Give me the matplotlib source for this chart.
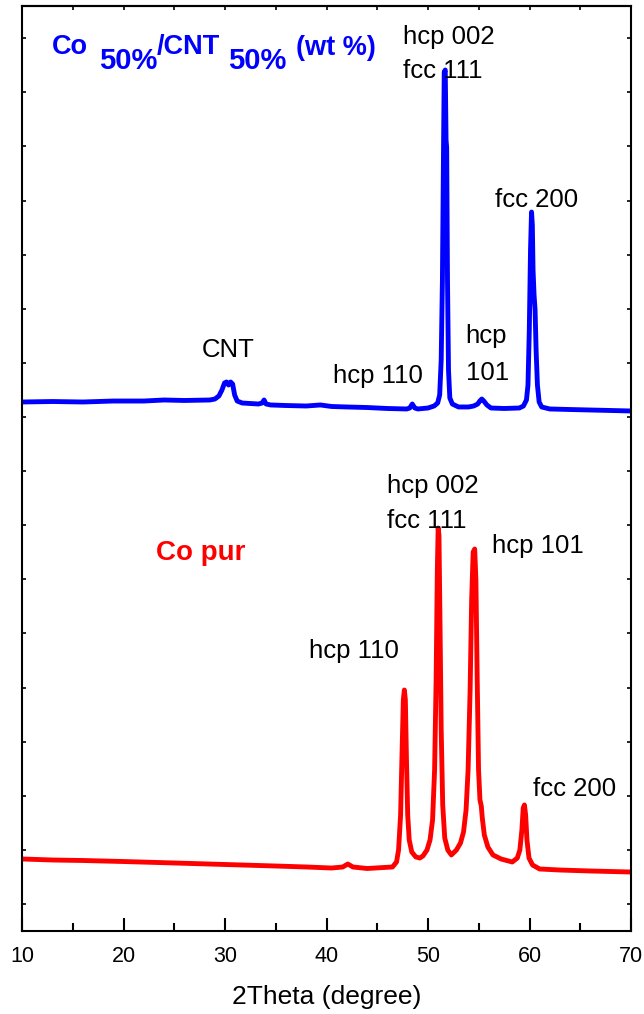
import matplotlib
matplotlib.use("Agg")
import matplotlib.pyplot as plt
from matplotlib.ticker import MultipleLocator, NullFormatter

# ---------------- data ----------------
two_theta_cnt = [10.0, 13.0, 16.0, 19.0, 22.0, 24.0, 26.0, 28.5, 29.0, 29.4, 29.7, 29.95,
                 30.15, 30.35, 30.55, 30.75, 30.95, 31.2, 31.7, 32.5, 33.3, 33.65, 33.85,
                 34.05, 34.5, 36.0, 38.0, 39.4, 40.5, 42.0, 44.0, 46.0, 47.9, 48.2, 48.45,
                 48.7, 49.0, 50.0, 50.6, 50.95, 51.15, 51.3, 51.42, 51.52, 51.6, 51.7,
                 51.78, 51.84, 51.92, 52.02, 52.15, 52.4, 53.0, 54.0, 54.5, 54.9, 55.1,
                 55.3, 55.5, 55.8, 56.2, 57.5, 59.0, 59.4, 59.7, 59.85, 59.98, 60.1, 60.2,
                 60.28, 60.35, 60.45, 60.55, 60.65, 60.78, 60.95, 61.2, 62.0, 64.0, 66.0,
                 68.0, 70.0]
intensity_cnt = [9277, 9286, 9277, 9295, 9295, 9314, 9305, 9314, 9332, 9388, 9499, 9628,
                 9647, 9591, 9647, 9610, 9406, 9295, 9258, 9249, 9240, 9258, 9314,
                 9240, 9222, 9212, 9203, 9222, 9194, 9185, 9175, 9157, 9148, 9166, 9240,
                 9166, 9148, 9166, 9203, 9258, 9406, 10053, 11532, 13749, 15375, 15412,
                 14119, 13971, 11532, 9868, 9351, 9240, 9185, 9185, 9203, 9240, 9295,
                 9332, 9295, 9222, 9166, 9157, 9166, 9203, 9314, 9591, 10608, 12086, 12788,
                 12548, 11716, 11254, 10977, 10238, 9591, 9277, 9185, 9148, 9138, 9129,
                 9120, 9111]

two_theta_pur = [10.0, 13.0, 16.0, 20.0, 25.0, 30.0, 35.0, 38.0, 40.5, 41.6, 42.1, 42.6,
                 44.0, 46.5, 46.9, 47.1, 47.3, 47.45, 47.57, 47.67, 47.77, 47.88, 48.0,
                 48.15, 48.4, 48.8, 49.2, 49.5, 49.9, 50.2, 50.45, 50.65, 50.8, 50.92,
                 51.0, 51.08, 51.18, 51.3, 51.45, 51.65, 51.95, 52.3, 52.8, 53.2, 53.5,
                 53.75, 53.95, 54.15, 54.3, 54.45, 54.6, 54.72, 54.85, 54.98, 55.12, 55.25,
                 55.35, 55.55, 55.9, 56.4, 57.2, 58.3, 58.8, 59.05, 59.25, 59.38, 59.5,
                 59.62, 59.75, 59.95, 60.3, 61.0, 63.0, 66.0, 70.0]
intensity_pur = [832, 813, 804, 785, 758, 730, 702, 684, 665, 684, 739, 684,
                 656, 684, 776, 998, 1645, 2846, 3770, 3955, 3770, 2661, 1645,
                 1183, 961, 869, 850, 887, 998, 1183, 1552, 2476, 4140, 6172,
                 6948, 6819, 5248, 3216, 1830, 1220, 998, 906, 998, 1127, 1331,
                 1737, 2476, 3955, 5618, 6505, 6560, 5988, 4140, 2476, 1922, 1811,
                 1589, 1275, 1053, 906, 832, 776, 850, 998, 1368, 1774, 1830,
                 1645, 1183, 850, 721, 647, 628, 610, 591]

x_ticks_major = [10, 20, 30, 40, 50, 60, 70]

# ---------------- figure ----------------
W, H = 644, 1014
fig = plt.figure(figsize=(W / 100, H / 100), dpi=100)
ax = fig.add_axes([22 / W, 83 / H, 609 / W, 925 / H])

ax.plot(two_theta_cnt, intensity_cnt, color="#0000ff", lw=3.5, solid_joinstyle="round")
ax.plot(two_theta_pur, intensity_pur, color="#ff0000", lw=3.5, solid_joinstyle="round")

ax.set_xlim(10, 70)
ax.set_ylim(-499, 16595)

FONT = "Liberation Sans"

ax.set_xticks(x_ticks_major)
ax.set_xticklabels([str(t) for t in x_ticks_major], fontfamily=FONT, fontsize=15.5)
ax.xaxis.set_minor_locator(MultipleLocator(5))
ax.yaxis.set_major_locator(MultipleLocator(1000))
ax.yaxis.set_major_formatter(NullFormatter())

ax.tick_params(axis="x", which="major", direction="in", length=9.5, width=1.5,
               bottom=True, top=False, pad=10.5)
ax.tick_params(axis="x", which="minor", direction="in", length=5.5, width=1.5,
               bottom=True, top=False)
ax.tick_params(axis="y", which="major", direction="in", length=3, width=1.2,
               left=True, right=True)

top = ax.secondary_xaxis("top")
top.xaxis.set_major_locator(MultipleLocator(5))
top.tick_params(direction="in", length=3, width=1.2, labeltop=False)
top.spines["top"].set_linewidth(1.5)

for sp in ax.spines.values():
    sp.set_linewidth(1.5)

ax.set_xlabel("2Theta (degree)", fontfamily=FONT, fontsize=19, labelpad=13)


def ptext(px, py, s, **kw):
    fig.text(px / W, 1 - py / H, s, ha="left", va="baseline", **kw)


# sample labels
blue_kw = dict(color="#0000ff", fontfamily=FONT, fontweight="bold")
ptext(52, 54, "Co", fontsize=19.5, **blue_kw)
ptext(99, 69, "50%", fontsize=21, **blue_kw)
ptext(157, 54, "/CNT", fontsize=19.5, **blue_kw)
ptext(228, 69, "50%", fontsize=21, **blue_kw)
ptext(296, 55, "(wt %)", fontsize=19.5, **blue_kw)
ptext(156, 560, "Co pur", color="#ff0000", fontfamily=FONT, fontweight="bold", fontsize=20)

# peak labels
ann = dict(color="black", fontfamily=FONT, fontsize=18.5)
ptext(403, 44, "hcp 002", **ann)
ptext(403, 78, "fcc 111", **ann)
ptext(495, 207, "fcc 200", **ann)
ptext(465, 343, "hcp", **ann)
ptext(466, 380, "101", **ann)
ptext(333, 383, "hcp 110", **ann)
ptext(202, 357, "CNT", **ann)

ptext(387, 493, "hcp 002", **ann)
ptext(387, 528, "fcc 111", **ann)
ptext(492, 553, "hcp 101", **ann)
ptext(309, 658, "hcp 110", **ann)
ptext(533, 796, "fcc 200", **ann)

fig.savefig("out.png", dpi=100)
